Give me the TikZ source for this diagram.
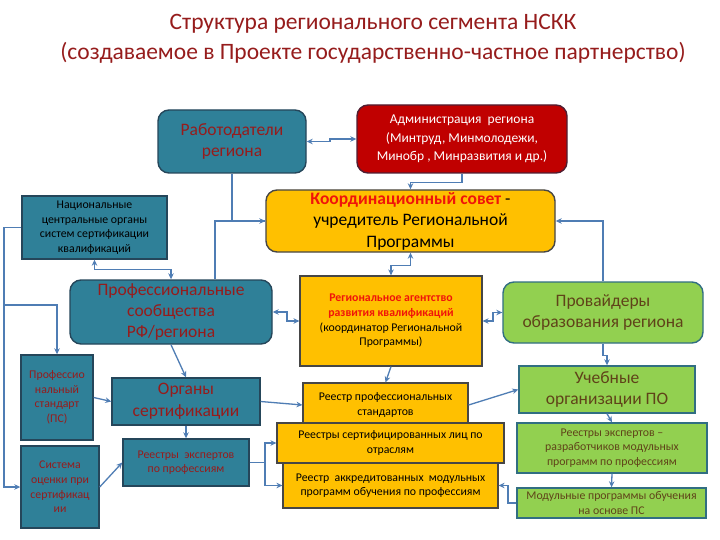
\documentclass[tikz,border=0pt]{standalone}
\usepackage{fontspec}
\setmainfont{Carlito}
\usetikzlibrary{arrows.meta}
\definecolor{tealc}{RGB}{47,128,152}
\definecolor{tealb}{RGB}{37,70,90}
\definecolor{goldc}{RGB}{255,192,0}
\definecolor{goldb}{RGB}{70,70,70}
\definecolor{greenc}{RGB}{146,208,80}
\definecolor{greenb}{RGB}{49,110,130}
\definecolor{admc}{RGB}{192,0,0}
\definecolor{admb}{RGB}{80,30,50}
\definecolor{dred}{RGB}{150,28,28}
\definecolor{brownt}{RGB}{95,67,25}
\definecolor{linec}{RGB}{79,125,180}
\definecolor{brred}{RGB}{240,20,10}
\tikzset{
  box/.style={draw, line width=1.4pt, align=center, inner sep=1pt, anchor=center},
  tealbox/.style={box, fill=tealc, draw=tealb},
  goldbox/.style={box, fill=goldc, draw=goldb, line width=1.2pt},
  greenbox/.style={box, fill=greenc, draw=greenb},
  admbox/.style={box, fill=admc, draw=admb, rounded corners=11pt},
  rnd/.style={rounded corners=11pt},
  big/.style={font=\fontsize{17.5}{21.5}\selectfont},
  mid/.style={font=\fontsize{13.5}{18.5}\selectfont},
  sml/.style={font=\fontsize{11.8}{14.6}\selectfont},
  conn/.style={draw=linec, line width=1.3pt},
  arr/.style={conn, -{Stealth[length=6pt,width=5.5pt]}},
  arrb/.style={conn, {Stealth[length=6pt,width=5.5pt]}-{Stealth[length=6pt,width=5.5pt]}},
}
\begin{document}
\begin{tikzpicture}[x=1pt,y=-1pt]
\useasboundingbox (0,0) rectangle (720,540);
\fill[white] (0,0) rectangle (720,540);
% title
\node[text=dred, font=\fontsize{23.5}{30}\selectfont, align=center] (title) at (373,39)
  {Структура регионального сегмента НСКК\\(создаваемое в Проекте государственно-частное партнерство)};
% nodes
\node[tealbox, rnd, big, text=dred, minimum width=148pt, minimum height=63pt] (rab) at (232,141.5) {Работодатели\\региона};
\node[admbox, mid, text=white, minimum width=210pt, minimum height=68pt] (adm) at (462,139) {Администрация \ региона\\(Минтруд, Минмолодежи,\\Минобр , Минразвития и др.)};
\node[box, rnd, fill=goldc, draw=goldb, big, minimum width=289pt, minimum height=62pt] (coord) at (410.5,221) {{\bfseries\color{brred}Координационный совет} -\\учредитель Региональной\\Программы};
\node[tealbox, sml, minimum width=145pt, minimum height=63pt] (nat) at (94.5,227.5) {Национальные\\центральные органы\\систем сертификации\\квалификаций};
\node[tealbox, rnd, big, text=dred, minimum width=202pt, minimum height=64pt] (prof) at (171,312) {Профессиональные\\сообщества\\РФ/региона};
\node[goldbox, sml, minimum width=182pt, minimum height=90pt] (agency) at (391,321) {{\bfseries\color{brred}Региональное агентство}\\{\bfseries\color{brred}развития квалификаций}\\(координатор Региональной\\Программы)};
\node[greenbox, rnd, big, text=brownt, minimum width=200pt, minimum height=61pt] (prov) at (603,312.5) {Провайдеры\\образования региона};
\node[greenbox, big, text=brownt, minimum width=176pt, minimum height=47pt] (ucheb) at (607,389.5) {Учебные\\организации ПО};
\node[greenbox, sml, text=brownt, minimum width=190pt, minimum height=50pt] (rexpb) at (612,448) {Реестры экспертов –\\разработчиков модульных\\программ по профессиям};
\node[greenbox, sml, text=brownt, minimum width=189pt, minimum height=30pt] (modul) at (611.5,503) {Модульные программы обучения\\на основе ПС};
\node[goldbox, sml, minimum width=165pt, minimum height=44pt] (rps) at (385.5,405) {Реестр профессиональных\\стандартов};
\node[goldbox, sml, minimum width=227pt, minimum height=40pt] (rsert) at (390.5,443) {Реестры сертифицированных лиц по\\отраслям};
\node[goldbox, sml, minimum width=215pt, minimum height=45pt] (rakk) at (390.5,485.5) {Реестр \ аккредитованных \ модульных\\программ обучения по профессиям};
\node[tealbox, sml, text=dred, minimum width=72pt, minimum height=85pt] (profst) at (57,397.5) {Профессио\\нальный\\стандарт\\(ПС)};
\node[tealbox, sml, text=dred, minimum width=78pt, minimum height=82pt] (sist) at (60,487) {Система\\оценки при\\сертификац\\ии};
\node[tealbox, big, text=dred, minimum width=148pt, minimum height=47pt] (organ) at (186,401.5) {Органы\\сертификации};
\node[tealbox, sml, text=dred, minimum width=126pt, minimum height=47pt] (rexp) at (186,462.5) {Реестры \ экспертов\\по профессиям};
% connectors
\coordinate (lft) at (4,305);
\coordinate (rj) at (330,141.5);
\coordinate (pj) at (287,312);
\coordinate (aj) at (493,321);
\coordinate (ej) at (265,462.5);
\coordinate (mj) at (508,503);
\draw[arrb] (rab.east) -- (rj) |- (adm.west);
\draw[arr] (adm.south) -- ++(0,9) -| (coord.north);
\draw[arr] (rab.south) |- (coord.west);
\draw[conn] ([xshift=44pt]prof.north) |- (coord.west);
\draw[arrb] (nat.south) -- ++(0,10) -| (prof.north);
\draw[arr] (nat.west) -| (lft) |- (sist.west);
\draw[arr] (lft) -| (profst.north);
\draw[arrb] (coord.south) -- ++(0,13) -| (agency.north);
\draw[arr] (prov.north) |- (coord.east);
\draw[arrb] (prof.east) -- (pj) |- (agency.west);
\draw[arrb] (prov.west) -| (aj) |- (agency.east);
\draw[arr] (agency.south) -- (rps.north);
\draw[arr] (prof.south) -- (organ.north);
\draw[arr] (profst.east) -- (organ.west);
\draw[arr] (organ.south) -- (rexp.north);
\draw[arr] (sist.east) -- (rexp.west);
\draw[arr] (organ.east) -- (rps.west);
\draw[arr] (rps.east) -- (ucheb.west);
\draw[conn] (rexp.east) -- (ej);
\draw[arr] (ej) |- (rsert.west);
\draw[arr] (ej) |- (rakk.west);
\draw[arr] (prov.south) -- ++(0,12) -| (ucheb.north);
\draw[arr] (ucheb.south) -- (rexpb.north);
\draw[arr] (rexpb.south) -- (modul.north);
\draw[arr] (modul.west) -- (mj) |- (rakk.east);
\end{tikzpicture}
\end{document}
